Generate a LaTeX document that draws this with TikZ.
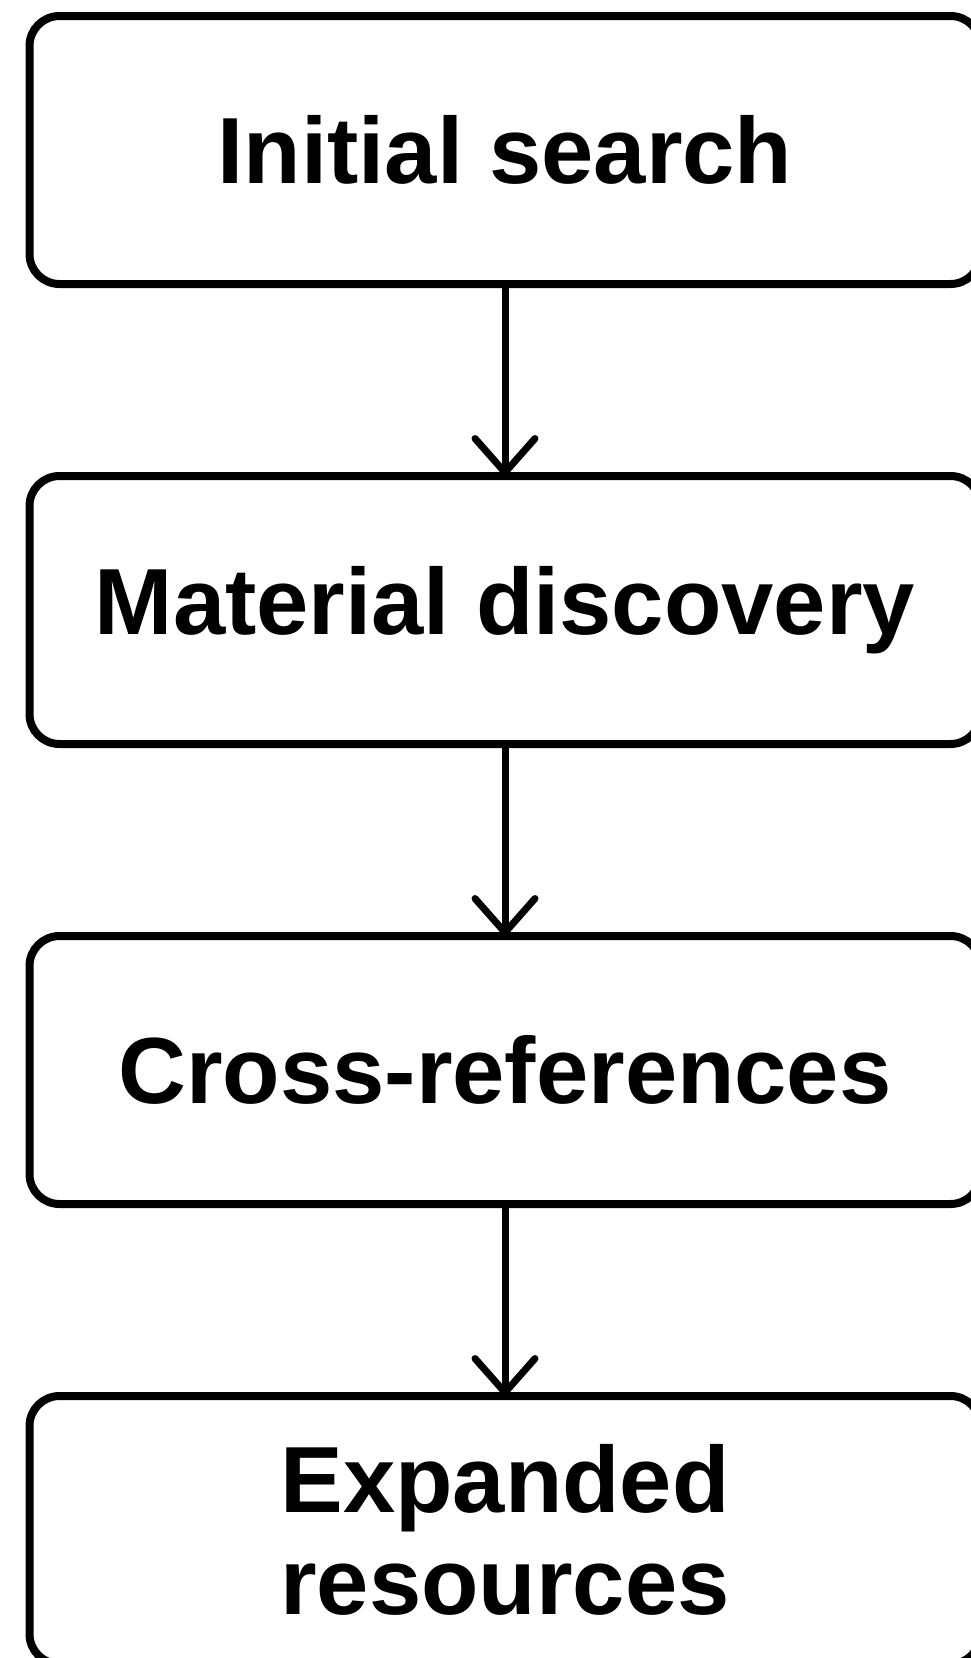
\documentclass[tikz,border=0pt]{standalone}
\usepackage{fontspec}
\setmainfont{Liberation Sans}
\usetikzlibrary{positioning,arrows.meta}

\begin{document}
\begin{tikzpicture}[x=1pt,y=1pt,
  stage/.style={draw=black,line width=8pt,rounded corners=30pt,minimum width=951pt,minimum height=268pt,outer sep=0pt,inner sep=0pt,align=center,font=\fontsize{94}{102}\selectfont\bfseries},
  flow/.style={line width=7pt,-{Straight Barb[length=34pt,width=60pt,line width=7pt,round]}}]
\path[use as bounding box,fill=white] (0,0) rectangle (971,-1658);
\node[stage] (search) at (505,-150) {Initial search};
\node[stage,below=192pt of search] (discovery) {Material discovery};
\node[stage,below=192pt of discovery] (crossref) {Cross-references};
\node[stage,below=192pt of crossref] (expanded) {Expanded\\resources};
\draw[flow] (search) -- (discovery);
\draw[flow] (discovery) -- (crossref);
\draw[flow] (crossref) -- (expanded);
\end{tikzpicture}
\end{document}
